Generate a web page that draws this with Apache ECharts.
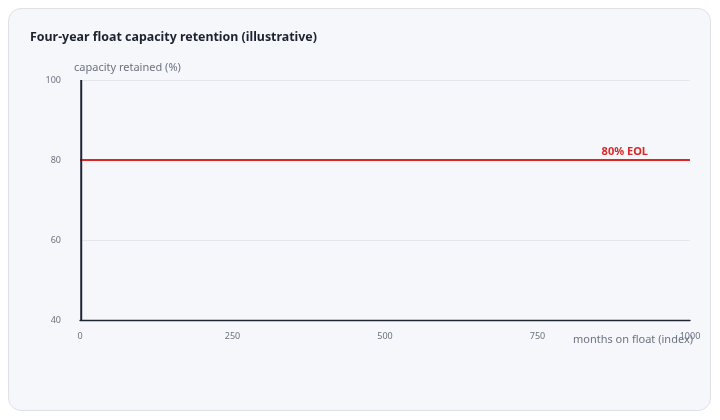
<!DOCTYPE html>
<html>
<head>
<meta charset="utf-8">
<script src="https://cdn.jsdelivr.net/npm/echarts@6/dist/echarts.min.js"></script>
<style>
  html, body { margin: 0; padding: 0; width: 720px; height: 420px; background: #ffffff; overflow: hidden; }
  #card { position: absolute; left: 8px; top: 8px; width: 701px; height: 401px; border: 1.5px solid #dde2ea; border-radius: 13px; background: #f6f7fb; }
  #chart { position: absolute; left: 0; top: 0; width: 720px; height: 420px; }
</style>
</head>
<body>
<div id="card"></div>
<div id="chart"></div>
<script>
const titleText = 'Four-year float capacity retention (illustrative)';
const yAxisName = 'capacity retained (%)';
const xAxisName = 'months on float (index)';
const yTicks = [40, 60, 80, 100];
const xTicks = [0, 250, 500, 750, 1000];
// retention series as drawn: collapsed at the start of the index axis
const retentionX = [2, 2];
const retentionY = [100, 40];
const eolValue = 80;
const eolLabel = '80% EOL';

const chart = echarts.init(document.getElementById('chart'), null, { renderer: 'canvas' });
const font = '"Noto Sans", "Open Sans", sans-serif';

chart.setOption({
  backgroundColor: 'transparent',
  animation: false,
  title: {
    text: titleText,
    left: 25, top: 26,
    textStyle: { fontFamily: font, fontSize: 12.4, fontWeight: 'bold', color: '#1c2230' }
  },
  grid: { left: 80, right: 30, top: 80, bottom: 100, containLabel: false, outerBoundsMode: 'none' },
  xAxis: {
    type: 'value',
    min: xTicks[0], max: xTicks[xTicks.length - 1], interval: 250,
    name: xAxisName,
    nameLocation: 'end',
    nameGap: 3,
    nameMoveOverlap: false,
    nameTextStyle: { fontFamily: font, fontSize: 11, color: '#6b7280', align: 'right', verticalAlign: 'top', padding: [14, 0, 0, 0] },
    axisLine: { show: true, onZero: false, lineStyle: { color: '#1f2533', width: 1.3 } },
    axisTick: { show: false },
    splitLine: { show: false },
    axisLabel: { fontFamily: font, fontSize: 9, color: '#6b7280', margin: 12, formatter: v => String(v) }
  },
  yAxis: {
    type: 'value',
    min: yTicks[0], max: yTicks[yTicks.length - 1], interval: 20,
    name: yAxisName,
    nameLocation: 'end',
    nameGap: 7,
    nameTextStyle: { fontFamily: font, fontSize: 11, color: '#6b7280', align: 'left', padding: [0, 0, 0, -6] },
    axisLine: { show: false },
    axisTick: { show: false },
    splitLine: { show: true, lineStyle: { color: '#e3e6ec', width: 1 } },
    axisLabel: { fontFamily: font, fontSize: 9, color: '#6b7280', margin: 19, formatter: v => String(v) }
  },
  series: [{
    type: 'line',
    name: 'capacity retained',
    data: retentionX.map((x, i) => [x, retentionY[i]]),
    showSymbol: false,
    symbol: 'none',
    lineStyle: { color: '#1f2533', width: 2 },
    z: 3,
    markLine: {
      silent: true,
      symbol: 'none',
      z: 2,
      lineStyle: { color: '#dc2626', width: 2, type: 'solid' },
      label: {
        show: true,
        position: 'insideEndTop',
        formatter: eolLabel,
        fontFamily: font, fontSize: 11, fontWeight: 'bold', color: '#dc2626',
        distance: 3,
        padding: [0, 39, 0, 0]
      },
      data: [{ yAxis: eolValue }]
    }
  }]
});
</script>
</body>
</html>
